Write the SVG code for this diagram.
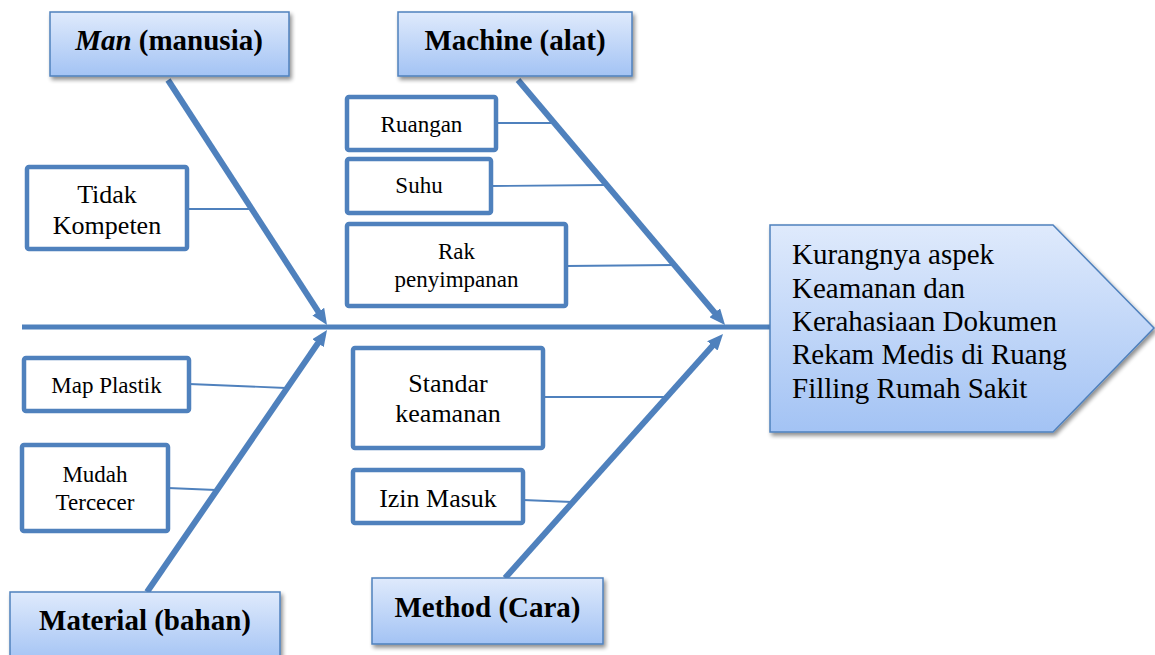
<svg xmlns="http://www.w3.org/2000/svg" width="1155" height="655" viewBox="0 0 1155 655">
<defs>
<linearGradient id="blueGrad" x1="0" y1="0" x2="0" y2="1">
<stop offset="0" stop-color="#dfeafc"/>
<stop offset="1" stop-color="#a3c3f4"/>
</linearGradient>
<filter id="shadow" x="-10%" y="-10%" width="130%" height="140%">
<feGaussianBlur in="SourceAlpha" stdDeviation="2"/>
<feOffset dx="2" dy="3" result="b"/>
<feComponentTransfer><feFuncA type="linear" slope="0.45"/></feComponentTransfer>
<feMerge><feMergeNode/><feMergeNode in="SourceGraphic"/></feMerge>
</filter>
<marker id="arrow" markerUnits="userSpaceOnUse" markerWidth="16" markerHeight="14" refX="2" refY="7" orient="auto">
<path d="M0,0 L16,7 L0,14 z" fill="#4f81bd"/>
</marker>
</defs>
<style>
.cat{fill:url(#blueGrad);stroke:#4f81bd;stroke-width:1.5;filter:url(#shadow)}
.box{fill:#ffffff;stroke:#4f81bd;stroke-width:4.5}
.bone{stroke:#4f81bd;stroke-width:6;fill:none}
.spine{stroke:#4f81bd;stroke-width:5;fill:none}
.branch{stroke:#4f81bd;stroke-width:1.8;fill:none}
.catText{font-family:"Liberation Serif",serif;font-weight:bold;font-size:29px;fill:#000;text-anchor:middle}
.t23{font-family:"Liberation Serif",serif;font-size:23px;fill:#000;text-anchor:middle}
.t26{font-family:"Liberation Serif",serif;font-size:26px;fill:#000;text-anchor:middle}
.effText{font-family:"Liberation Serif",serif;font-size:29px;fill:#000}
</style>

<g id="connectors">
<line class="spine" x1="22" y1="327" x2="772" y2="327"/>
<line class="bone" x1="168" y1="80" x2="319.4" y2="313.3" marker-end="url(#arrow)"/>
<line class="bone" x1="518" y1="80" x2="716" y2="314.3" marker-end="url(#arrow)"/>
<line class="bone" x1="147" y1="592" x2="319.1" y2="341.5" marker-end="url(#arrow)"/>
<line class="bone" x1="505" y1="578" x2="713.7" y2="344.4" marker-end="url(#arrow)"/>
<line class="branch" x1="187" y1="209" x2="249" y2="209"/>
<line class="branch" x1="496" y1="123" x2="553" y2="123"/>
<line class="branch" x1="491" y1="186" x2="606" y2="185"/>
<line class="branch" x1="566" y1="266" x2="674" y2="265"/>
<line class="branch" x1="189" y1="384" x2="286" y2="388"/>
<line class="branch" x1="168" y1="488" x2="216" y2="490"/>
<line class="branch" x1="543" y1="397" x2="665" y2="397"/>
<line class="branch" x1="523" y1="500" x2="572" y2="502"/>
</g>

<g id="effect">
<path d="M770,225 L1053,225 L1154,328 L1053,432 L770,432 Z" fill="url(#blueGrad)" stroke="#4f81bd" stroke-width="1.5" filter="url(#shadow)"/>
<text class="effText" x="792" y="264">Kurangnya aspek</text>
<text class="effText" x="792" y="298">Keamanan dan</text>
<text class="effText" x="792" y="331">Kerahasiaan Dokumen</text>
<text class="effText" x="792" y="364">Rekam Medis di Ruang</text>
<text class="effText" x="792" y="398">Filling Rumah Sakit</text>
</g>

<g id="man">
<rect class="cat" x="50" y="12" width="239" height="64"/>
<text class="catText" x="169" y="50"><tspan font-style="italic">Man</tspan> (manusia)</text>
</g>
<g id="machine">
<rect class="cat" x="398" y="12" width="234" height="64"/>
<text class="catText" x="515" y="50">Machine (alat)</text>
</g>
<g id="material">
<rect class="cat" x="10" y="592" width="270" height="70"/>
<text class="catText" x="145" y="630">Material (bahan)</text>
</g>
<g id="method">
<rect class="cat" x="372" y="578" width="231" height="66"/>
<text class="catText" x="487.5" y="617">Method (Cara)</text>
</g>

<g id="tidak-kompeten">
<rect class="box" x="27" y="167" width="160" height="82" rx="2"/>
<text class="t26" x="107" y="203">Tidak</text>
<text class="t26" x="107" y="234">Kompeten</text>
</g>
<g id="ruangan">
<rect class="box" x="347" y="97" width="149" height="53" rx="2"/>
<text class="t23" x="421.5" y="132">Ruangan</text>
</g>
<g id="suhu">
<rect class="box" x="347" y="159" width="144" height="54" rx="2"/>
<text class="t23" x="419" y="193">Suhu</text>
</g>
<g id="rak-penyimpanan">
<rect class="box" x="347" y="224" width="219" height="82" rx="2"/>
<text class="t23" x="456.5" y="259">Rak</text>
<text class="t23" x="456.5" y="287">penyimpanan</text>
</g>
<g id="map-plastik">
<rect class="box" x="24" y="358" width="165" height="53" rx="2"/>
<text class="t23" x="106.5" y="393">Map Plastik</text>
</g>
<g id="mudah-tercecer">
<rect class="box" x="22" y="445" width="146" height="86" rx="2"/>
<text class="t23" x="95" y="482">Mudah</text>
<text class="t23" x="95" y="510">Tercecer</text>
</g>
<g id="standar-keamanan">
<rect class="box" x="353" y="348" width="190" height="100" rx="2"/>
<text class="t26" x="448" y="392">Standar</text>
<text class="t26" x="448" y="422">keamanan</text>
</g>
<g id="izin-masuk">
<rect class="box" x="353" y="470" width="170" height="53" rx="2"/>
<text class="t26" x="438" y="507">Izin Masuk</text>
</g>
</svg>
